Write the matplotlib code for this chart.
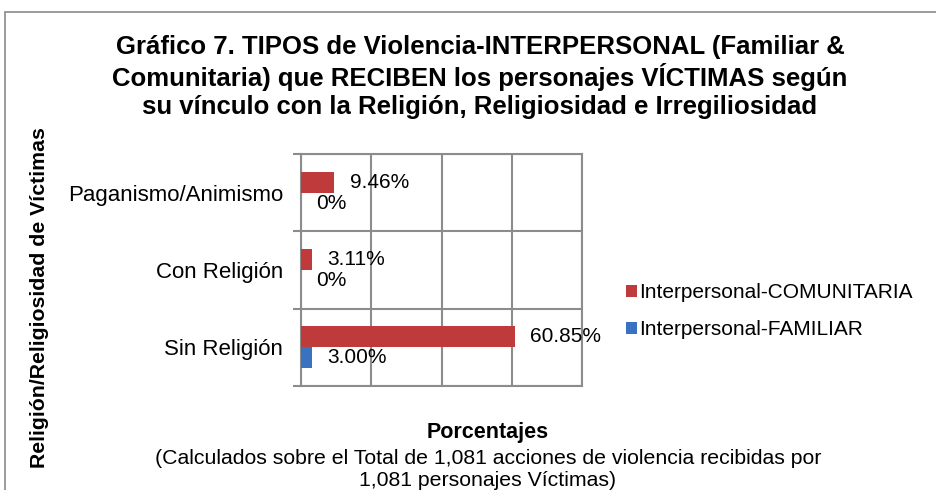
import matplotlib
matplotlib.use("Agg")
from matplotlib import pyplot
from matplotlib.patches import Rectangle
import numpy

categories = ["Sin Religión", "Con Religión", "Paganismo/Animismo"]
comunitaria = [60.85, 3.11, 9.46]
familiar = [3.00, 0, 0]
comunitaria_labels = ["60.85%", "3.11%", "9.46%"]
familiar_labels = ["3.00%", "0%", "0%"]
series_names = ["Interpersonal-COMUNITARIA", "Interpersonal-FAMILIAR"]

title_lines = [
    "Gráfico 7. TIPOS de Violencia-INTERPERSONAL (Familiar &",
    "Comunitaria) que RECIBEN los personajes VÍCTIMAS según",
    "su vínculo con la Religión, Religiosidad e Irregiliosidad",
]

pyplot.rcParams["font.family"] = ["Liberation Sans", "DejaVu Sans"]

W, H = 936, 490
fig = pyplot.figure(figsize=(W / 100, H / 100), dpi=100)

# chart border (runs off the right and bottom edge like the original)
fig.patches.append(Rectangle((5 / W, -0.1), 1.2, 1.1 - 12 / H, transform=fig.transFigure,
                             fill=False, edgecolor="#8a8a8a", linewidth=1.2))

ax = fig.add_axes([301 / W, 1 - 386 / H, 281 / W, 232 / H])

red = "#BF3A3A"
blue = "#3A72C2"
grid = "#8c8c8c"
y = numpy.arange(len(categories))
h = 0.273

ax.barh(y + h / 2, comunitaria, height=h, color=red, label=series_names[0], zorder=3)
ax.barh(y - h / 2, familiar, height=h, color=blue, label=series_names[1], zorder=3)

for yi, v, s in zip(y, comunitaria, comunitaria_labels):
    ax.annotate(s, (v, yi + h / 2), xytext=(11, 0), textcoords="offset points",
                va="center", ha="left", fontsize=15)
for yi, v, s in zip(y, familiar, familiar_labels):
    ax.annotate(s, (v, yi - h / 2), xytext=(11, 0), textcoords="offset points",
                va="center", ha="left", fontsize=15)

ax.set_xlim(0, 80)
ax.set_ylim(-0.5, 2.5)
ax.set_xticks([0, 20, 40, 60, 80])
ax.set_xticklabels([])
ax.tick_params(axis="x", length=0)
ax.set_yticks(y)
ax.set_yticklabels(categories, fontsize=16)
ax.tick_params(axis="y", which="major", length=0, pad=13)
ax.set_yticks([-0.5, 0.5, 1.5, 2.5], minor=True)
ax.tick_params(axis="y", which="minor", length=6, color=grid, width=1.5)
ax.grid(True, axis="x", color=grid, linewidth=1.5, zorder=0)
ax.grid(True, axis="y", which="minor", color=grid, linewidth=1.5, zorder=0)
for sp in ax.spines.values():
    sp.set_color(grid)
    sp.set_linewidth(1.5)

handles, labels = ax.get_legend_handles_labels()
fig.legend(handles, labels, loc="upper left", bbox_to_anchor=(618 / W, 1 - 275 / H),
           frameon=False, fontsize=15, handlelength=0.5, handleheight=0.5,
           handletextpad=0.1, labelspacing=0.85, borderaxespad=0)

for i, line in enumerate(title_lines):
    fig.text(480 / W, 1 - (47 + 30 * i) / H, line, ha="center", va="center",
             fontsize=18.5, fontweight="bold")

fig.text(40 / W, 1 - 298 / H, "Religión/Religiosidad de Víctimas", rotation=90,
         ha="center", va="center", fontsize=15.3, fontweight="bold")

fig.text(488 / W, 1 - 432 / H, "Porcentajes", ha="center", va="center",
         fontsize=15.5, fontweight="bold")
fig.text(488 / W, 1 - 458 / H, "(Calculados sobre el Total de 1,081 acciones de violencia recibidas por",
         ha="center", va="center", fontsize=15.3)
fig.text(488 / W, 1 - 480 / H, "1,081 personajes Víctimas)", ha="center", va="center", fontsize=15.3)

fig.savefig("out.png", dpi=100)
